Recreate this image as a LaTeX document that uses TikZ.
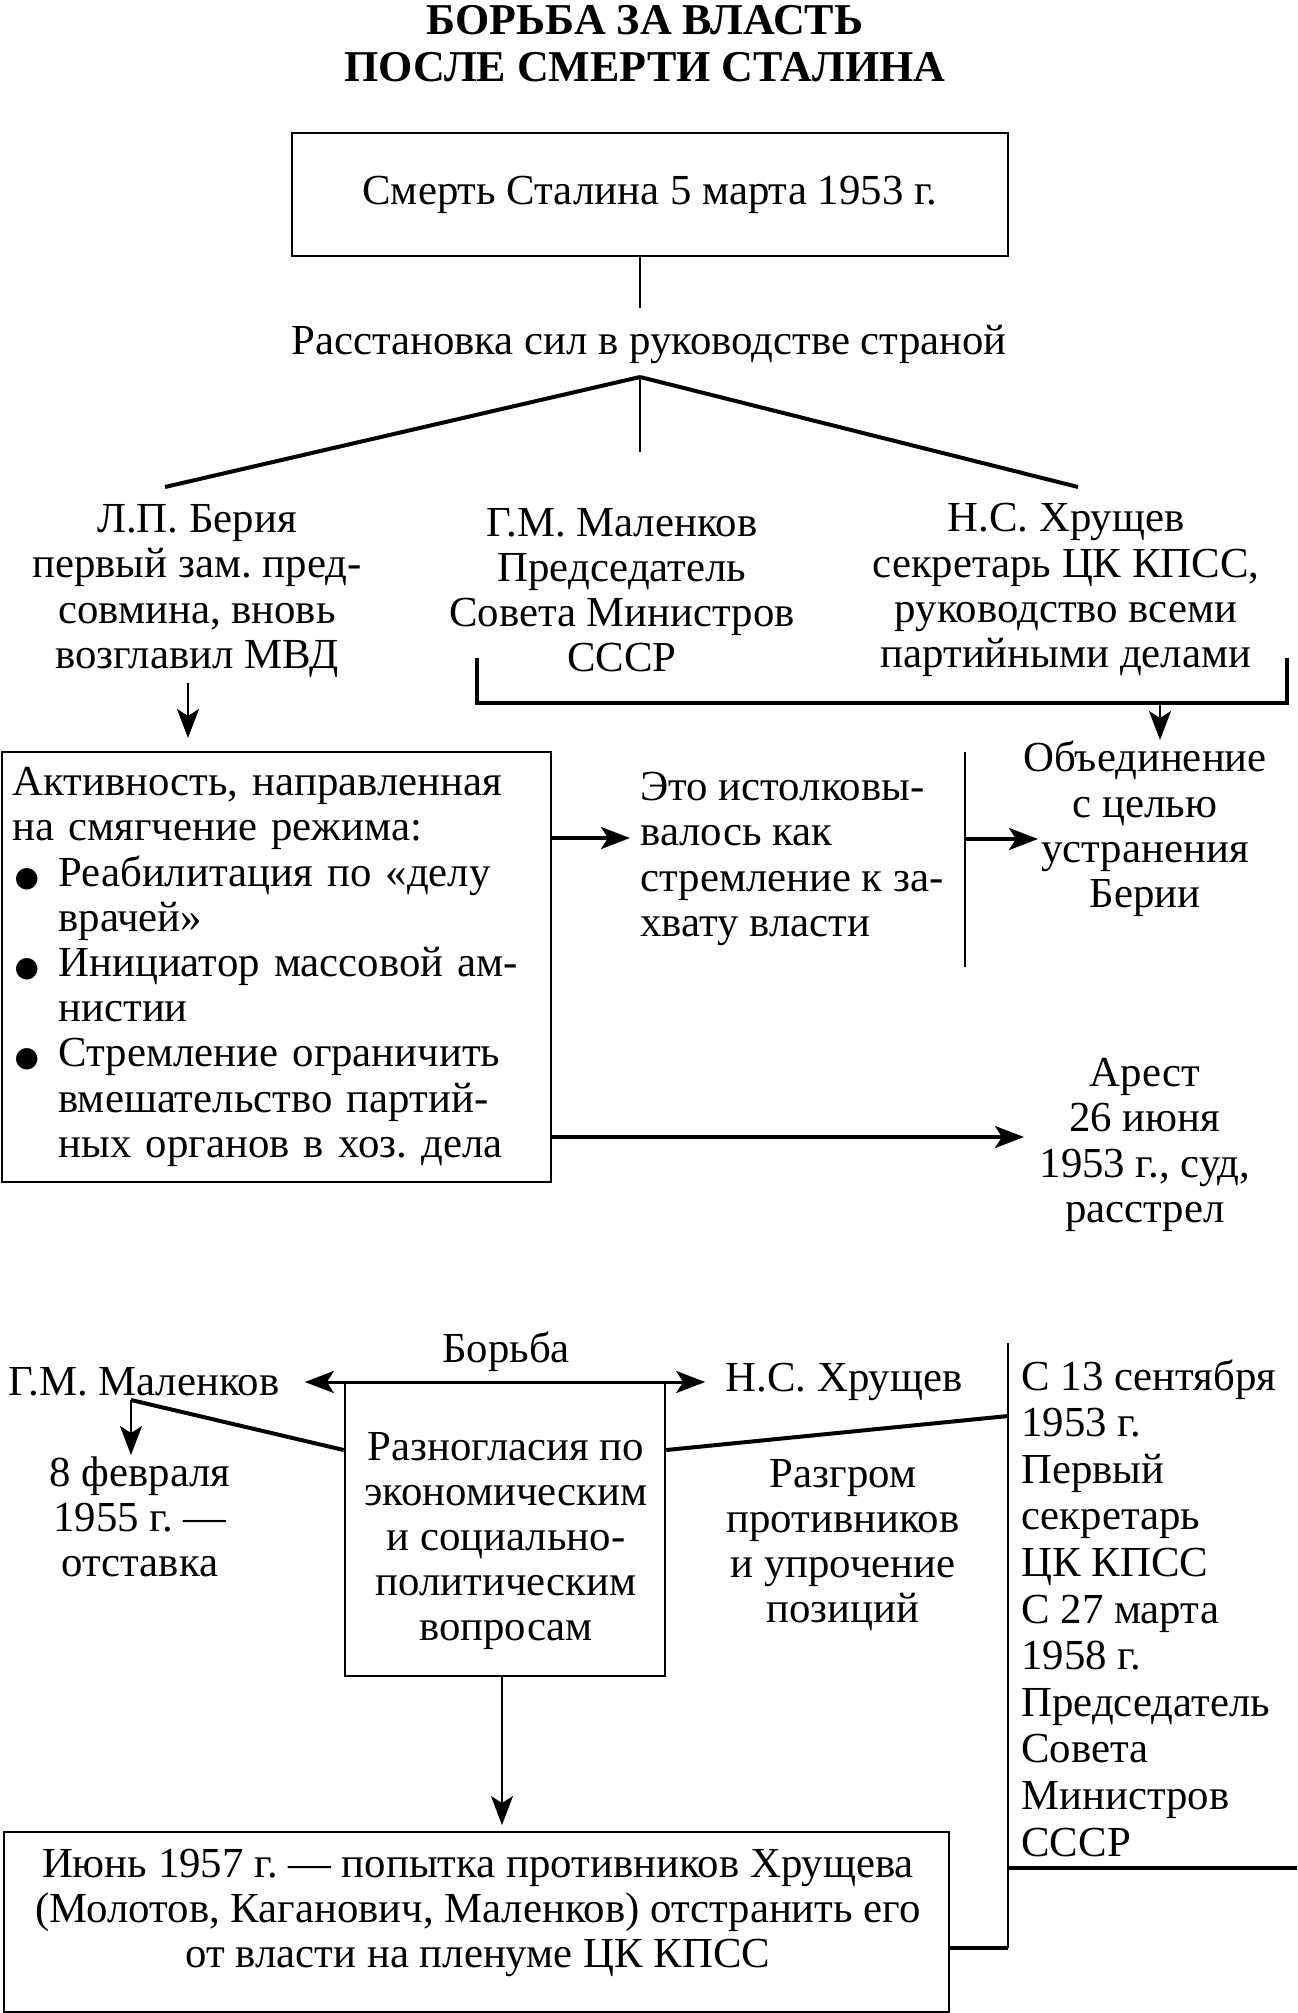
\documentclass[tikz,border=0pt]{standalone}
\usepackage{fontspec}
\setmainfont{Liberation Serif}
\newfontfamily\symfont{DejaVu Sans}
\usetikzlibrary{arrows.meta,positioning}
\newcommand{\bul}{\makebox[23pt][l]{\hspace{1pt}{\symfont\fontsize{14}{14}\selectfont ●}}}
\newcommand{\ind}{\hspace*{23pt}}
\frenchspacing

\tikzset{
  every node/.style={font=\fontsize{21.4}{22.6}\selectfont, inner sep=0pt},
  headtext/.style={font=\bfseries\fontsize{22}{23.5}\selectfont, align=center},
  boxnode/.style={draw, line width=1.3pt},
  txt/.style={align=center},
  tip/.tip={Stealth[length=14.5pt,width=11pt,inset=3.5pt]},
  arr/.style={-tip, line width=1pt},
  bigarr/.style={-tip, line width=1.8pt},
  twoarr/.style={tip-tip, line width=1.5pt},
  thinline/.style={line width=1pt},
  boldline/.style={line width=2pt}
}

\begin{document}
\begin{tikzpicture}[x=0.5pt,y=-0.5pt]
\useasboundingbox (0,0) rectangle (1297,2013);
%%%%% START %%%%%

\node[headtext] (head) at (645,44) {БОРЬБА ЗА ВЛАСТЬ\\ПОСЛЕ СМЕРТИ СТАЛИНА};

\node[boxnode, minimum width=358pt, minimum height=61.5pt] (death) at (650,194.5) {Смерть Сталина 5 марта 1953 г.};
\node (forces) at (649,344) {Расстановка сил в руководстве страной};
\draw[thinline] (death.south -| 640,0) -- (640,308);

% three leaders
\coordinate (apex) at (640,377);
\node[txt] (beria) at (197,591) {Л.П. Берия\\первый зам. пред-\\совмина, вновь\\возглавил МВД};
\node[txt] (malen) at (622,590) {Г.М. Маленков\\Председатель\\Совета Министров\\СССР};
\node[txt] (khrush) at (1066,590) {Н.С. Хрущев\\секретарь ЦК КПСС,\\руководство всеми\\партийными делами};
\draw[boldline] (apex) -- (165,487);
\draw[boldline] (apex) -- (1078,487);
\draw[thinline] (apex) -- (640,452);

\draw[boldline] (477,658) -- (477,703) -- (1287,703) -- (1287,658);
\node[txt] (unite) at (1145,829) {Объединение\\с целью\\устранения\\Берии};
\draw[arr] (1160,703) -- (1160,740);

\node[boxnode, minimum width=274.5pt, minimum height=215pt, text width=264pt, align=left] (activ) at (276.5,967) {Активность, направленная\\на смягчение режима:\\\bul Реабилитация по «делу\\\ind врачей»\\\bul Инициатор массовой ам-\\\ind нистии\\\bul Стремление ограничить\\\ind вмешательство партий-\\\ind ных органов в хоз. дела};
\draw[arr] (188,683) -- (188,738);
\node[txt, anchor=west, align=left] (interp) at (640,859) {Это истолковы-\\валось как\\стремление к за-\\хвату власти};
\node[txt] (arrest) at (1145,1145) {Арест\\26 июня\\1953 г., суд,\\расстрел};

\draw[bigarr] (activ.east |- 0,838) -- (630,838);
\draw[thinline] (965,752) -- (965,967);
\draw[bigarr] (965,839) -- (1038,839);
\draw[bigarr] (activ.east |- 0,1137) -- (1024,1137);

% struggle
\node (borba) at (506,1352) {Борьба};
\node (malen2) at (144,1382) {Г.М. Маленков};
\node (khrush2) at (844,1382) {Н.С. Хрущев};
\draw[twoarr, shorten <=12.5pt, shorten >=10pt] (malen2.east) -- (khrush2.west);
\node[boxnode, minimum width=160pt, minimum height=147pt] (dispute) at (505,1529) {};
\node[txt] (disputetxt) at (506,1541) {Разногласия по\\экономическим\\и социально-\\политическим\\вопросам};

\coordinate (mk) at (131,1400);
\node[txt] (resign) at (140,1517) {8 февраля\\1955 г. —\\отставка};
\draw[boldline] (mk) -- (dispute.west |- 0,1450);
\draw[arr] (mk) -- (131,1455);

\node[txt] (rout) at (843,1545) {Разгром\\противников\\и упрочение\\позиций};
\coordinate (rtop) at (1008,1343);
\coordinate (rbot) at (1008,1948);
\draw[thinline] (rtop) -- (rbot);
\draw[boldline] (dispute.east |- 0,1450) -- (1008,1416);
\draw[boldline] (1008,1868) -- (1297,1868);

\node[anchor=west, align=left, font=\fontsize{21.4}{23.3}\selectfont] (posts) at (1021,1608) {С 13 сентября\\1953 г.\\Первый\\секретарь\\ЦК КПСС\\С 27 марта\\1958 г.\\Председатель\\Совета\\Министров\\СССР};

\node[boxnode, minimum width=472.5pt, minimum height=90pt] (june) at (476.5,1922) {};
\node[txt] (junetxt) at (478,1913) {Июнь 1957 г. — попытка противников Хрущева\\(Молотов, Каганович, Маленков) отстранить его\\от власти на пленуме ЦК КПСС};
\draw[arr] (dispute.south -| 502,0) -- (502,1825);
\draw[boldline] (june.east |- 0,1948) -- (rbot);

%%%%% END %%%%%
\end{tikzpicture}
\end{document}
